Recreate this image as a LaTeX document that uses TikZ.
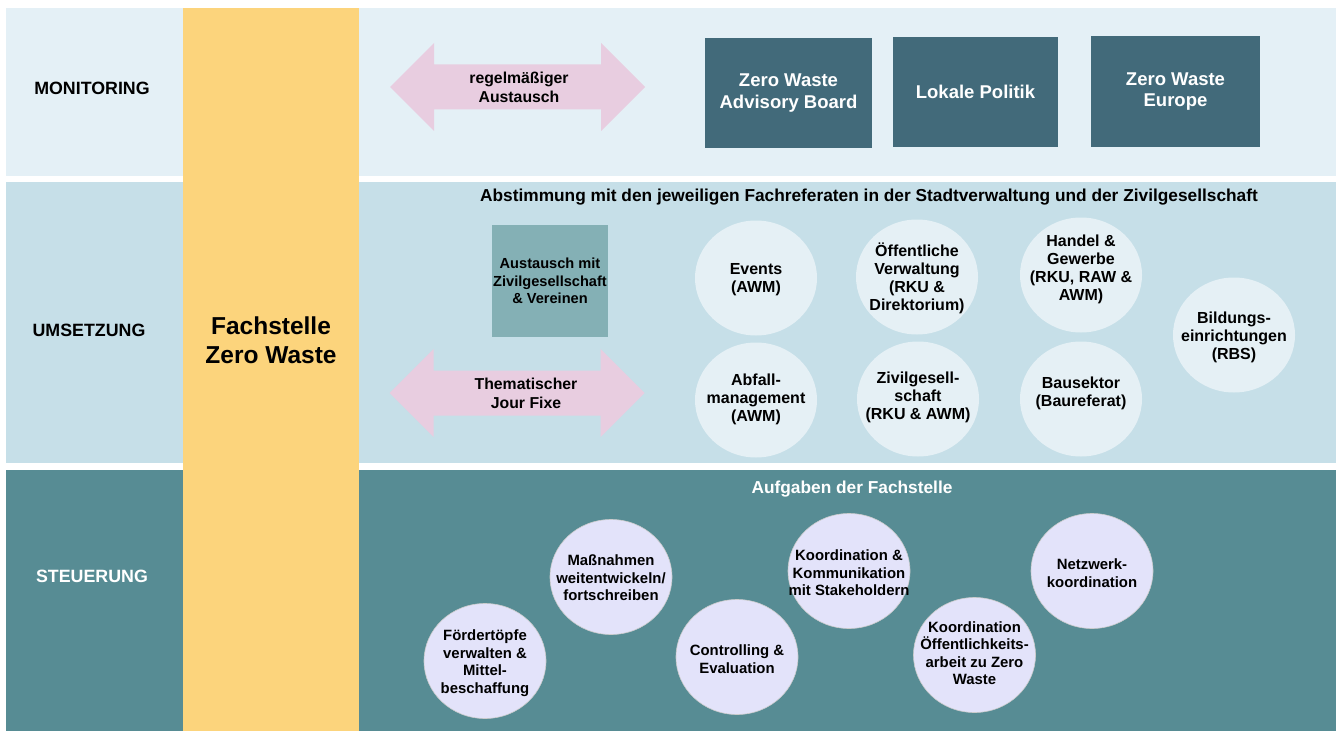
\documentclass[tikz,border=0pt]{standalone}
\usepackage{fontspec}
\setmainfont{Liberation Sans}
\definecolor{monbg}{HTML}{E4F0F6}
\definecolor{umsbg}{HTML}{C6DFE8}
\definecolor{steubg}{HTML}{578C94}
\definecolor{fachgelb}{HTML}{FCD47C}
\definecolor{boxdunkel}{HTML}{426A7A}
\definecolor{boxmittel}{HTML}{84B0B5}
\definecolor{pfeilrosa}{HTML}{E8CDE0}
\definecolor{kreishell}{HTML}{E5F0F5}
\definecolor{kreislila}{HTML}{E3E3FA}
\newcommand*{\fsz}[2]{\fontsize{#1}{#2}\selectfont}
% double arrow around (#1,#2)
\newcommand*{\dpfeil}[2]{%
  \fill[pfeilrosa] (#1-127.5,#2) -- (#1-83.5,#2-44) -- (#1-83.5,#2-22.5)
    -- (#1+83.5,#2-22.5) -- (#1+83.5,#2-44) -- (#1+127.5,#2)
    -- (#1+83.5,#2+44) -- (#1+83.5,#2+22.5) -- (#1-83.5,#2+22.5)
    -- (#1-83.5,#2+44) -- cycle;}

\begin{document}
\begin{tikzpicture}[x=1pt,y=-1pt,
    ebene/.style={font=\fsz{17.8}{21}\bfseries},
    titel/.style={font=\fsz{17.3}{21}\bfseries},
    dunkelbox/.style={fill=boxdunkel,text=white,align=center,
      minimum height=110pt,font=\fsz{18.5}{21.5}\bfseries},
    pfeiltext/.style={align=center,font=\fsz{15.8}{19}\bfseries},
    ktext/.style={align=center,inner sep=0pt,font=\fsz{16}{18}\bfseries},
    stext/.style={align=center,inner sep=0pt,font=\fsz{14.9}{17.5}\bfseries}]
  \useasboundingbox (0,0) rectangle (1338,733);
  % bands
  \fill[monbg] (6,8) rectangle (1336,176);
  \fill[umsbg] (6,182) rectangle (1336,463);
  \fill[steubg] (6,470) rectangle (1336,731);
  \fill[fachgelb] (183,8) rectangle (359,731);
  \node[ebene] (mon) at (92,88) {MONITORING};
  \node[ebene] (ums) at (89,330) {UMSETZUNG};
  \node[ebene,text=white] (steu) at (92,576) {STEUERUNG};
  \node[align=center,font=\fsz{24.5}{29.5}\bfseries] (fach) at (271,340)
    {Fachstelle\\Zero Waste};

  % Monitoring
  \dpfeil{517.5}{87}
  \node[pfeiltext] (austausch) at (519,87) {regelmäßiger\\Austausch};
  \node[dunkelbox,minimum width=167pt] (board) at (788.5,93)
    {Zero Waste\\Advisory Board};
  \node[dunkelbox,minimum width=165pt] (politik) at (975.5,92) {Lokale Politik};
  \node[dunkelbox,minimum width=169pt] (europe) at (1175.5,91.5)
    {Zero Waste\\Europe};

  % Umsetzung
  \node[titel] (abst) at (869,197) {Abstimmung mit den jeweiligen
    Fachreferaten in der Stadtverwaltung und der Zivilgesellschaft};
  \node[fill=boxmittel,minimum width=116pt,minimum height=112pt,align=center,
    inner sep=0pt,font=\fsz{14.6}{17.5}\bfseries] (verein) at (550,281)
    {Austausch mit\\Zivilgesellschaft\\\& Vereinen};
  \dpfeil{517}{393}
  \node[pfeiltext] (jourfixe) at (526,393) {Thematischer\\Jour Fixe};
  \foreach \n/\x/\y/\dy/\txt in {
      events/756/278/2/{Events\\(AWM)},
      verw/917/277/1/{Öffentliche\\Verwaltung\\(RKU \&\\Direktorium)},
      handel/1081/275/-6/{Handel \&\\Gewerbe\\(RKU, RAW \&\\AWM)},
      abfall/756/400/-1/{Abfall-\\management\\(AWM)},
      zivil/918/399/-2/{Zivilgesell-\\schaft\\(RKU \& AWM)},
      bau/1081/399/-6/{Bausektor\\(Baureferat)},
      bildung/1234/335/2/{Bildungs-\\einrichtungen\\(RBS)}}{
    \fill[kreishell] (\x,\y) ellipse [x radius=61, y radius=57.5];
    \node[ktext] (\n) at (\x,\y+\dy) {\txt};
  }

  % Steuerung
  \node[titel,text=white] (aufg) at (852,489) {Aufgaben der Fachstelle};
  \foreach \n/\x/\y/\dy/\txt in {
      foerder/485/661/2/{Fördertöpfe\\verwalten \&\\Mittel-\\beschaffung},
      massn/611/577/1/{Maßnahmen\\weitentwickeln/\\fortschreiben},
      contr/737/657/2/{Controlling \&\\Evaluation},
      komm/849/571/2/{Koordination \&\\Kommunikation\\mit Stakeholdern},
      oeff/974.5/655/-2/{Koordination\\Öffentlichkeits-\\arbeit zu Zero\\Waste},
      netz/1092/571/2/{Netzwerk-\\koordination}}{
    \fill[kreislila,draw=black!20,line width=.6pt] (\x,\y)
      ellipse [x radius=61, y radius=57.5];
    \node[stext] (\n) at (\x,\y+\dy) {\txt};
  }
\end{tikzpicture}
\end{document}
